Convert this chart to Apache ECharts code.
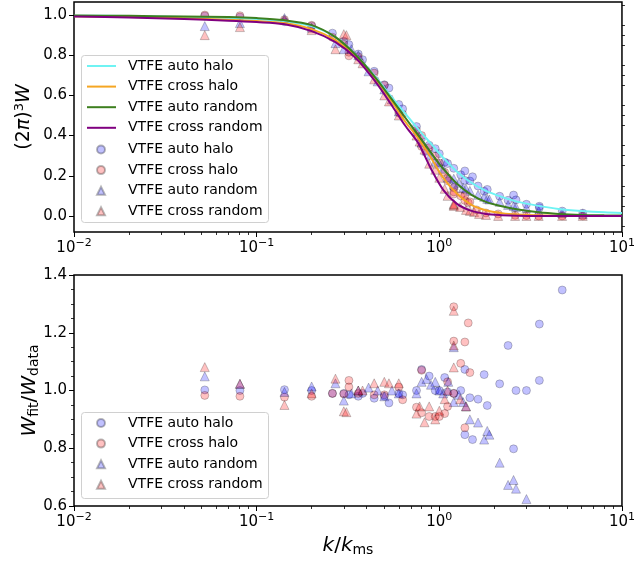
<!DOCTYPE html>
<html>
<head>
<meta charset="utf-8">
<script src="https://cdn.jsdelivr.net/npm/echarts@6.0.0/dist/echarts.min.js"></script>
<style>
  html, body { margin: 0; padding: 0; background: #fff; }
  #chart { width: 638px; height: 562px; }
</style>
</head>
<body>
<div id="chart"></div>
<script>
// 拟合曲线 (VTFE fits), sampled along k/k_ms
const fitK = [0.01, 0.02, 0.04, 0.07, 0.1, 0.14, 0.2, 0.27, 0.35, 0.45, 0.55, 0.65, 0.77, 0.9, 1.05, 1.25, 1.5, 1.8, 2.2, 2.7, 3.5, 4.5, 6, 8, 10];
const fitAutoHalo    = [0.997, 0.995, 0.99, 0.985, 0.98, 0.97, 0.945, 0.89, 0.80, 0.69, 0.59, 0.51, 0.43, 0.36, 0.29, 0.22, 0.165, 0.125, 0.095, 0.07, 0.05, 0.035, 0.025, 0.018, 0.015];
const fitCrossHalo   = [0.994, 0.99, 0.984, 0.977, 0.97, 0.96, 0.93, 0.875, 0.795, 0.68, 0.57, 0.47, 0.385, 0.29, 0.19, 0.11, 0.055, 0.028, 0.014, 0.007, 0.003, 0.001, 0, 0, 0];
const fitAutoRandom  = [0.998, 0.996, 0.993, 0.99, 0.985, 0.975, 0.95, 0.89, 0.80, 0.685, 0.58, 0.49, 0.40, 0.315, 0.235, 0.16, 0.105, 0.07, 0.048, 0.032, 0.018, 0.01, 0.005, 0.003, 0.002];
const fitCrossRandom = [0.993, 0.988, 0.98, 0.972, 0.965, 0.955, 0.92, 0.865, 0.785, 0.665, 0.55, 0.45, 0.36, 0.235, 0.13, 0.06, 0.025, 0.01, 0.004, 0.001, 0, 0, 0, 0, 0];

// 数据点: k, W, and W_fit/W_data (null = outside the lower panel)
const kAutoHalo = [0.052, 0.081, 0.142, 0.2, 0.26, 0.3, 0.32, 0.36, 0.38, 0.44, 0.5, 0.53, 0.6, 0.63, 0.75, 0.8, 0.88, 0.95, 1.0, 1.07, 1.11, 1.2, 1.31, 1.38, 1.38, 1.47, 1.52, 1.63, 1.76, 1.83, 2.14, 2.38, 2.55, 2.63, 3.0, 3.53, 3.53, 4.71, 6.1];
const wAutoHalo = [0.995, 0.99, 0.967, 0.945, 0.91, 0.87, 0.853, 0.806, 0.778, 0.72, 0.653, 0.637, 0.555, 0.533, 0.445, 0.387, 0.352, 0.335, 0.31, 0.268, 0.261, 0.237, 0.205, 0.177, 0.224, 0.174, 0.195, 0.149, 0.123, 0.132, 0.098, 0.078, 0.104, 0.08, 0.058, 0.041, 0.048, 0.024, 0.014];
const rAutoHalo = [1.002, 1.0, 1.003, 1.0, 0.99, 0.99, 0.985, 0.98, 0.99, 0.973, 0.98, 0.957, 0.99, 0.985, 1.0, 1.073, 1.05, 1.0, 1.0, 1.045, 0.995, 0.99, 1.0, 1.073, 0.847, 0.975, 0.83, 0.97, 1.055, 0.948, 1.023, 1.156, 0.798, 1.0, 1.0, 1.23, 1.035, 1.348, null];

const kCrossHalo = [0.052, 0.081, 0.142, 0.2, 0.26, 0.3, 0.32, 0.32, 0.36, 0.44, 0.5, 0.6, 0.63, 0.75, 0.8, 0.8, 0.88, 0.95, 1.0, 1.07, 1.11, 1.11, 1.2, 1.2, 1.2, 1.31, 1.38, 1.38, 1.44, 1.47, 1.6, 1.8, 2.1, 2.6, 3.0, 3.5, 4.7, 6.1];
const wCrossHalo = [1.0, 0.997, 0.977, 0.949, 0.889, 0.855, 0.797, 0.815, 0.793, 0.711, 0.65, 0.514, 0.506, 0.425, 0.346, 0.40, 0.34, 0.297, 0.264, 0.217, 0.19, 0.175, 0.109, 0.12, 0.141, 0.10, 0.077, 0.103, 0.065, 0.07, 0.03, 0.015, 0.01, 0.003, 0.002, 0.0, 0.0, 0.0];
const rCrossHalo = [0.983, 0.98, 0.977, 0.98, 0.99, 0.988, 1.035, 1.012, 0.99, 0.985, 0.985, 1.012, 0.968, 0.942, 1.07, 0.923, 0.91, 0.91, 0.91, 0.92, 0.945, 1.03, 1.29, 1.171, 0.99, 1.094, 1.168, 0.871, 1.234, 1.062, null, null, null, null, null, null, null, null];

const kAutoRandom = [0.052, 0.081, 0.142, 0.2, 0.27, 0.3, 0.33, 0.36, 0.41, 0.46, 0.5, 0.55, 0.6, 0.75, 0.8, 0.85, 0.9, 0.95, 1.0, 1.05, 1.12, 1.2, 1.2, 1.28, 1.35, 1.4, 1.47, 1.63, 1.76, 1.83, 1.88, 2.14, 2.38, 2.55, 2.63, 3.0, 3.5, 4.7, 6.1];
const wAutoRandom = [0.945, 0.96, 0.985, 0.937, 0.86, 0.83, 0.83, 0.80, 0.72, 0.67, 0.63, 0.58, 0.52, 0.42, 0.365, 0.325, 0.305, 0.27, 0.26, 0.235, 0.19, 0.155, 0.185, 0.165, 0.14, 0.135, 0.125, 0.105, 0.095, 0.085, 0.082, 0.07, 0.055, 0.05, 0.045, 0.04, 0.025, 0.015, 0.01];
const rAutoRandom = [1.049, 1.023, 0.995, 1.014, 1.025, 0.965, 0.99, 1.0, 1.01, 1.0, 0.98, 1.0, 0.99, 0.99, 1.03, 1.04, 1.02, 1.03, 1.0, 0.99, 1.03, 1.15, 0.96, 0.985, 0.96, 0.945, 0.9, 0.889, 0.83, 0.86, 0.847, 0.75, 0.673, 0.69, 0.66, 0.624, null, null, null];

const kCrossRandom = [0.052, 0.081, 0.142, 0.2, 0.27, 0.3, 0.31, 0.36, 0.38, 0.44, 0.5, 0.53, 0.6, 0.75, 0.78, 0.83, 0.88, 0.95, 1.0, 1.07, 1.11, 1.2, 1.2, 1.2, 1.3, 1.4, 1.47, 1.55, 1.65, 1.8, 2.1, 2.6, 3.0, 3.5, 4.7, 6.1];
const wCrossRandom = [0.9, 0.94, 0.975, 0.925, 0.83, 0.905, 0.9, 0.78, 0.76, 0.68, 0.6, 0.57, 0.5, 0.4, 0.37, 0.33, 0.26, 0.23, 0.19, 0.135, 0.1, 0.05, 0.055, 0.06, 0.045, 0.03, 0.025, 0.02, 0.01, 0.005, 0.0, 0.0, 0.0, 0.0, 0.0, 0.0];
const rCrossRandom = [1.081, 1.023, 0.95, 0.99, 1.041, 0.928, 0.925, 1.0, 1.0, 1.025, 1.03, 1.025, 1.025, 0.92, 0.945, 0.89, 0.945, 0.9, 0.93, 0.97, 1.0, 1.276, 1.156, 1.08, 0.97, 0.945, null, null, null, null, null, null, null, null, null, null];

// 刻度
const topYTicks = [0, 0.2, 0.4, 0.6, 0.8, 1.0];
const topYMinor = [-0.05, 0.05, 0.1, 0.15, 0.25, 0.3, 0.35, 0.45, 0.5, 0.55, 0.65, 0.7, 0.75, 0.85, 0.9, 0.95, 1.05];
const xMinor = [0.02, 0.03, 0.04, 0.05, 0.06, 0.07, 0.08, 0.09, 0.2, 0.3, 0.4, 0.5, 0.6, 0.7, 0.8, 0.9, 2, 3, 4, 5, 6, 7, 8, 9];

const lineNames = ['VTFE auto halo', 'VTFE cross halo', 'VTFE auto random', 'VTFE cross random'];

const FONT = 'DejaVu Sans';
const DATA_TAG = ' (data)';

function pairs(ks, vs) {
    return ks.map((k, i) => [k, vs[i]]).filter(p => p[1] !== null);
}

const blueFill = 'rgba(0, 0, 255, 0.3)';
const redFill = 'rgba(255, 0, 0, 0.3)';
const edge = 'rgba(0, 0, 0, 0.35)';

function lineSeries(name, ys, color) {
    return {
        name: name, type: 'line', xAxisIndex: 0, yAxisIndex: 0,
        data: pairs(fitK, ys), symbol: 'none', smooth: 0.3, z: 4,
        color: color, lineStyle: {color: color, width: 2}
    };
}

function scatterSeries(name, ks, vs, fill, symbol, panel) {
    return {
        name: name + DATA_TAG, type: 'scatter',
        xAxisIndex: panel, yAxisIndex: panel === 0 ? 0 : 2,
        data: pairs(ks, vs), symbol: symbol, symbolSize: symbol === 'circle' ? 8 : 9, z: 3,
        itemStyle: {color: fill, borderColor: edge, borderWidth: 0.8}
    };
}

const xLabelRich = {
    b: {fontSize: 15, fontFamily: FONT, color: '#000'},
    s: {fontSize: 11, fontFamily: FONT, color: '#000', padding: [0, 0, 9, 0]}
};

function xLabel(v) {
    const e = Math.round(Math.log10(v));
    return '{b|10}{s|' + (e < 0 ? '\u2212' + (-e) : e) + '}';
}

function mainX(gridIndex, withName) {
    const ax = {
        type: 'log', gridIndex: gridIndex, min: 0.01, max: 10, logBase: 10,
        position: 'bottom',
        axisLine: {show: false, onZero: false},
        axisTick: {show: true, length: 5, lineStyle: {color: '#000', width: 1}},
        axisLabel: {formatter: xLabel, rich: xLabelRich, margin: 6, showMinLabel: true, showMaxLabel: true},
        splitLine: {show: false}
    };
    if (withName) {
        ax.name = '{i|k}{r|/}{i|k}{sub|ms}';
        ax.nameLocation = 'middle';
        ax.nameGap = 28;
        ax.nameMoveOverlap = false;
        ax.nameTextStyle = {
            rich: {
                i: {fontSize: 20, fontStyle: 'italic', fontFamily: FONT, color: '#000'},
                r: {fontSize: 20, fontFamily: FONT, color: '#000'},
                sub: {fontSize: 14, fontFamily: FONT, color: '#000', padding: [9, 0, 0, 0]}
            }
        };
    }
    return ax;
}

function minorX(gridIndex) {
    return {
        type: 'log', gridIndex: gridIndex, min: 0.01, max: 10, logBase: 10,
        position: 'bottom',
        axisLine: {show: false, onZero: false},
        axisTick: {show: true, length: 3, customValues: xMinor, lineStyle: {color: '#000', width: 0.8}},
        axisLabel: {show: false}, splitLine: {show: false}
    };
}

const yLabelStyle = {fontSize: 15, fontFamily: FONT, color: '#000', margin: 7};

// 图例: 线条与散点分成两组, 外框单独绘制
const legendText = {fontSize: 14, fontFamily: FONT, color: '#000'};
function legendBlock(top, names, isLine) {
    const lg = {
        left: isLine ? 86 : 96, top: top, orient: 'vertical',
        itemWidth: isLine ? 29 : 8, itemHeight: 8, itemGap: 6.6,
        padding: 0, selectedMode: false, z: 6,
        textStyle: Object.assign({padding: [0, 0, 0, isLine ? 7 : 18]}, legendText),
        formatter: n => n.replace(DATA_TAG, ''),
        data: names
    };
    if (isLine) {
        lg.itemStyle = {opacity: 0};   // 只显示线段, 隐藏中间的圆点
    }
    return lg;
}
const dataNames = lineNames.map(n => n + DATA_TAG);

function legendFrame(top, height) {
    return {
        type: 'rect', left: 81, top: top, z: 5,
        shape: {width: 187, height: height, r: 3},
        style: {fill: 'rgba(255,255,255,0.85)', stroke: '#d0d0d0', lineWidth: 1}
    };
}

const option = {
    animation: false,
    backgroundColor: '#fff',
    grid: [
        {left: 74, top: 2, width: 551, height: 230, show: true, borderColor: '#000', borderWidth: 1.5, backgroundColor: 'transparent'},
        {left: 74, top: 275, width: 551, height: 231, show: true, borderColor: '#000', borderWidth: 1.5, backgroundColor: 'transparent'}
    ],
    graphic: [legendFrame(55, 167), legendFrame(412, 86)],
    xAxis: [mainX(0, false), mainX(1, true), minorX(0), minorX(1)],
    yAxis: [
        {
            type: 'value', gridIndex: 0, min: -0.08, max: 1.065,
            axisLine: {show: false, onZero: false},
            axisTick: {show: true, length: 5, customValues: topYTicks, lineStyle: {color: '#000'}},
            axisLabel: Object.assign({customValues: topYTicks, formatter: v => v.toFixed(1)}, yLabelStyle),
            splitLine: {show: false},
            name: '{r|(2}{i|π}{r|)}{sup|3}{i|W}',
            nameLocation: 'middle', nameGap: 38, nameRotate: 90, nameMoveOverlap: false,
            nameTextStyle: {
                rich: {
                    r: {fontSize: 19, fontFamily: FONT, color: '#000'},
                    i: {fontSize: 19, fontStyle: 'italic', fontFamily: FONT, color: '#000'},
                    sup: {fontSize: 13, fontFamily: FONT, color: '#000', padding: [0, 0, 10, 0]}
                }
            }
        },
        {
            type: 'value', gridIndex: 0, min: -0.08, max: 1.065,
            axisLine: {show: false, onZero: false},
            axisTick: {show: true, length: 3, customValues: topYMinor, lineStyle: {color: '#000', width: 0.8}},
            axisLabel: {show: false}, splitLine: {show: false}
        },
        {
            type: 'value', gridIndex: 1, min: 0.6, max: 1.4, interval: 0.2,
            axisLine: {show: false, onZero: false},
            axisTick: {show: true, length: 5, lineStyle: {color: '#000'}},
            minorTick: {show: true, splitNumber: 4, length: 3, lineStyle: {color: '#000', width: 0.8}},
            axisLabel: Object.assign({formatter: v => v.toFixed(1)}, yLabelStyle),
            splitLine: {show: false},
            name: '{i|W}{sub|fit}{r|/}{i|W}{sub|data}',
            nameLocation: 'middle', nameGap: 33, nameRotate: 90, nameMoveOverlap: false,
            nameTextStyle: {
                rich: {
                    r: {fontSize: 20, fontFamily: FONT, color: '#000'},
                    i: {fontSize: 20, fontStyle: 'italic', fontFamily: FONT, color: '#000'},
                    sub: {fontSize: 14, fontFamily: FONT, color: '#000', padding: [9, 0, 0, 0]}
                }
            }
        }
    ],
    legend: [
        legendBlock(59, lineNames, true),
        legendBlock(142.5, dataNames, false),
        legendBlock(416, dataNames, false)
    ],
    series: [
        lineSeries('VTFE auto halo', fitAutoHalo, '#6ff3f3'),
        lineSeries('VTFE cross halo', fitCrossHalo, '#f5a623'),
        lineSeries('VTFE auto random', fitAutoRandom, '#3d7f1f'),
        lineSeries('VTFE cross random', fitCrossRandom, '#800080'),
        scatterSeries('VTFE auto halo', kAutoHalo, wAutoHalo, blueFill, 'circle', 0),
        scatterSeries('VTFE cross halo', kCrossHalo, wCrossHalo, redFill, 'circle', 0),
        scatterSeries('VTFE auto random', kAutoRandom, wAutoRandom, blueFill, 'triangle', 0),
        scatterSeries('VTFE cross random', kCrossRandom, wCrossRandom, redFill, 'triangle', 0),
        scatterSeries('VTFE auto halo', kAutoHalo, rAutoHalo, blueFill, 'circle', 1),
        scatterSeries('VTFE cross halo', kCrossHalo, rCrossHalo, redFill, 'circle', 1),
        scatterSeries('VTFE auto random', kAutoRandom, rAutoRandom, blueFill, 'triangle', 1),
        scatterSeries('VTFE cross random', kCrossRandom, rCrossRandom, redFill, 'triangle', 1)
    ]
};

const chart = echarts.init(document.getElementById('chart'));
chart.setOption(option);
</script>
</body>
</html>
